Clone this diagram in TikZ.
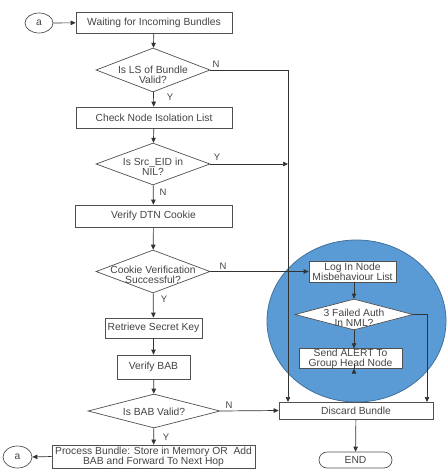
\documentclass[tikz,border=0pt]{standalone}
\usepackage{fontspec}
\setmainfont{Liberation Sans}
\usetikzlibrary{shapes.geometric,arrows.meta,calc}
\definecolor{cfill}{HTML}{5B9BD5}
\definecolor{cedge}{HTML}{41719C}
\definecolor{ink}{HTML}{444444}
\definecolor{edge}{HTML}{505050}
\begin{document}
\begin{tikzpicture}[x=1pt,y=-1pt,
  every node/.style={font=\fontsize{10.3}{10}\selectfont, text=ink},
  box/.style={draw=edge, line width=0.7pt, fill=white, rectangle, inner sep=0pt, align=center},
  dia/.style={draw=edge, line width=0.7pt, fill=white, diamond, inner sep=0pt},
  lbl/.style={align=center, inner sep=0pt, yshift=-3pt},
  term/.style={draw=edge, line width=0.7pt, fill=white, ellipse, inner sep=0pt},
  arr/.style={draw=black!80, line width=0.7pt, -{Triangle[length=5pt,width=4.5pt]}},
  yn/.style={font=\fontsize{9.5}{10}\selectfont, inner sep=0pt}
]
\useasboundingbox (0,0) rectangle (447,471);

% blue circle
\path[fill=cfill, draw=cedge, line width=0.8pt] (356.5,321) ellipse [x radius=89.5, y radius=81];

% left column
\node[term, minimum width=28pt, minimum height=20pt] (atop) at (39,23) {a};
\node[box, minimum width=156pt, minimum height=21pt] (b1) at (154,22.5) {Waiting for Incoming Bundles};
\node[dia, minimum width=114pt, minimum height=44pt] (d1) at (153,70) {};
\node[lbl, yshift=-1.5pt] (d1t) at (d1) {Is LS of Bundle\\Valid?};
\node[box, minimum width=156pt, minimum height=21pt] (b2) at (154,117.5) {Check Node Isolation List};
\node[dia, minimum width=114pt, minimum height=42pt] (d2) at (153,164) {};
\node[lbl] (d2t) at (d2) {Is Src\_EID in\\NIL?};
\node[box, minimum width=157pt, minimum height=22pt] (b3) at (153.5,216) {Verify DTN Cookie};
\node[dia, minimum width=114pt, minimum height=43pt] (d3) at (153,271.5) {};
\node[lbl] (d3t) at (d3) {Cookie Verification\\Successful?};
\node[box, minimum width=97pt, minimum height=20pt] (b4) at (153.5,328) {Retrieve Secret Key};
\node[box, minimum width=73pt, minimum height=24pt] (b5) at (153.5,367) {Verify BAB};
\node[dia, minimum width=132pt, minimum height=34pt] (d4) at (154,411) {};
\node[lbl, yshift=2pt] (d4t) at (d4) {Is BAB Valid?};
\node[box, minimum width=203pt, minimum height=23pt] (b6) at (153.5,456.5) {Process Bundle: Store in Memory OR\ \ Add\\BAB and Forward To Next Hop};
\node[term, minimum width=29pt, minimum height=22pt] (abot) at (17.5,457) {a};

% right side
\node[box, minimum width=87pt, minimum height=21pt] (b7) at (352.5,271.5) {Log In Node\\Misbehaviour List};
\node[dia, minimum width=118pt, minimum height=31pt] (d5) at (354,314.5) {};
\node[lbl] (d5t) at (d5) {3 Failed Auth\\In NML?};
\node[box, minimum width=103pt, minimum height=19pt] (b8) at (350.5,358.5) {Send ALERT To\\Group Head Node};
\node[box, minimum width=154pt, minimum height=17pt] (disc) at (356,410.5) {Discard Bundle};
\node[box, rounded corners=8pt, minimum width=73pt, minimum height=16pt] (endn) at (355.5,460) {END};

\coordinate (vx) at (288,402);
\coordinate (rx) at (427,402);

% connectors
\draw[arr] (atop) -- (b1);
\draw[arr] (b1) -- (d1);
\draw[arr] (d1) -- (b2);
\draw[arr] (b2) -- (d2);
\draw[arr] (d2) -- (b3);
\draw[arr] (b3) -- (d3);
\draw[arr] (d3) -- (b4);
\draw[arr] (b4) -- (b5);
\draw[arr] (b5) -- (d4);
\draw[arr] (d4) -- (b6);
\draw[arr] (b6.west) -- (abot.east);
\draw[arr] (d1.east) -| (vx);
\draw[arr] (d2.east) -- (d2.east -| vx);
\draw[arr] (d3.east) -- (b7.west);
\draw[arr] (d4.east) -- (disc.west);
\draw[arr] (b7.south -| d5.north) -- (d5.north);
\draw[arr] (d5.south) -- (d5.south |- b8.north);
\draw[arr] (b8.south -| d5.south) -- (b8.south -| d5.south |- disc.north);
\draw[arr] (d5.east) -| (rx);
\draw[arr] (disc) -- (endn);

% Y/N labels
\node[yn] (l1) at (216,64) {N};
\node[yn] (l2) at (170,97) {Y};
\node[yn] (l3) at (217,157) {Y};
\node[yn] (l4) at (163,192) {N};
\node[yn] (l5) at (223,266) {N};
\node[yn] (l6) at (164,299) {Y};
\node[yn] (l7) at (229,405) {N};
\node[yn] (l8) at (166,437) {Y};
\end{tikzpicture}
\end{document}
